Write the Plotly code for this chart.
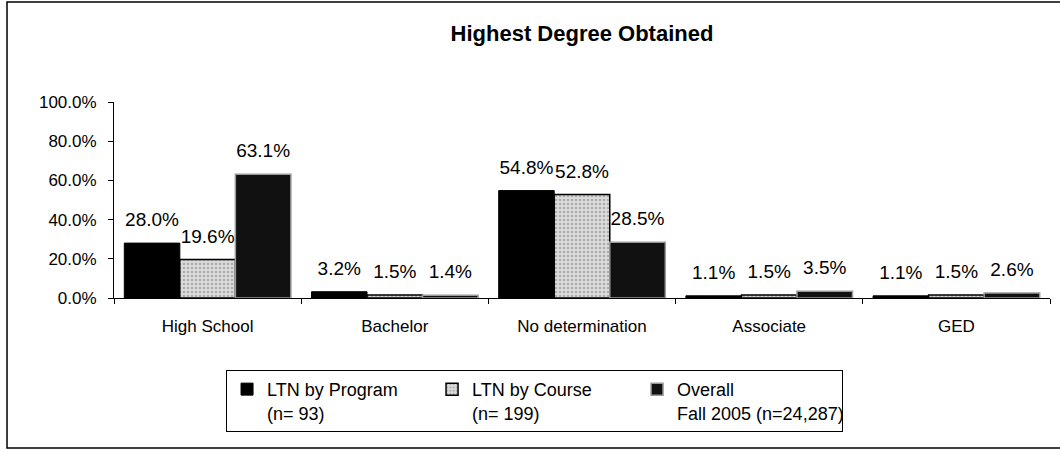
import plotly.graph_objects as go

categories = ["High School", "Bachelor", "No determination", "Associate", "GED"]
program = [28.0, 3.2, 54.8, 1.1, 1.1]
course = [19.6, 1.5, 52.8, 1.5, 1.5]
overall = [63.1, 1.4, 28.5, 3.5, 2.6]
series_names = ["LTN by Program<br>(n= 93)", "LTN by Course<br>(n= 199)", "Overall<br>Fall 2005 (n=24,287)"]
y_ticks = [0, 20, 40, 60, 80, 100]

FONT = "Liberation Sans, Arial, sans-serif"
BARGAP = 0.11

fig = go.Figure()

styles = [
    dict(color="#000000", line=dict(color="#000000", width=1)),
    dict(color="#d4d4d4", line=dict(color="#000000", width=1.5),
         pattern=dict(shape=".", bgcolor="#dcdcdc", fgcolor="#7a7a7a", size=4, solidity=0.35)),
    dict(color="#111111", line=dict(color="#9a9a9a", width=1.5)),
]

for i, (name, vals) in enumerate(zip(series_names, [program, course, overall])):
    fig.add_trace(go.Bar(
        x=categories, y=vals, name=name, marker=styles[i],
        offsetgroup=str(i), hoverinfo="skip",
    ))

for i, vals in enumerate([program, course, overall]):
    fig.add_trace(go.Scatter(
        x=categories, y=vals, mode="markers+text",
        text=[f"{v:.1f}%" for v in vals], textposition="top center",
        textfont=dict(family=FONT, size=19, color="black"),
        marker=dict(size=18, color="rgba(0,0,0,0)"),
        offsetgroup=str(i), showlegend=False, hoverinfo="skip", cliponaxis=False,
    ))

fig.update_layout(
    width=1060, height=450,
    margin=dict(l=114, r=10, t=102, b=152),
    paper_bgcolor="white", plot_bgcolor="white",
    barmode="group", bargap=BARGAP, bargroupgap=0,
    scattermode="group", scattergap=BARGAP,
    font=dict(family=FONT, color="black"),
    title=dict(text="<b>Highest Degree Obtained</b>", x=0.5, xref="paper", y=0.927, yanchor="middle",
               font=dict(family=FONT, size=22, color="black")),
    showlegend=True,
    legend=dict(
        orientation="h", x=0.1197, xanchor="left", y=-0.367, yanchor="top",
        bordercolor="black", borderwidth=1, bgcolor="white",
        font=dict(family=FONT, size=18, color="black"),
        valign="top", entrywidth=160, itemwidth=30,
    ),
    xaxis=dict(
        showline=True, linecolor="black", linewidth=1,
        ticks="outside", tickson="boundaries", ticklen=5, tickcolor="black",
        tickfont=dict(family=FONT, size=17, color="black"), ticklabelstandoff=13,
        showgrid=False,
    ),
    yaxis=dict(
        range=[0, 100], tickvals=y_ticks, ticktext=[f"{v:.1f}%" for v in y_ticks],
        showline=True, linecolor="black", linewidth=1,
        ticks="outside", ticklen=5, tickcolor="black",
        tickfont=dict(family=FONT, size=17, color="black"), ticklabelstandoff=8,
        showgrid=False, zeroline=False,
    ),
    shapes=[dict(type="rect", xref="paper", yref="paper",
                 x0=-0.1143, x1=1.02, y0=-0.765, y1=1.51,
                 line=dict(color="black", width=1.5), fillcolor="rgba(0,0,0,0)", layer="below")],
)

fig.write_html("out.html", config={"displayModeBar": False},
               post_script="document.body.style.margin='0px';")
